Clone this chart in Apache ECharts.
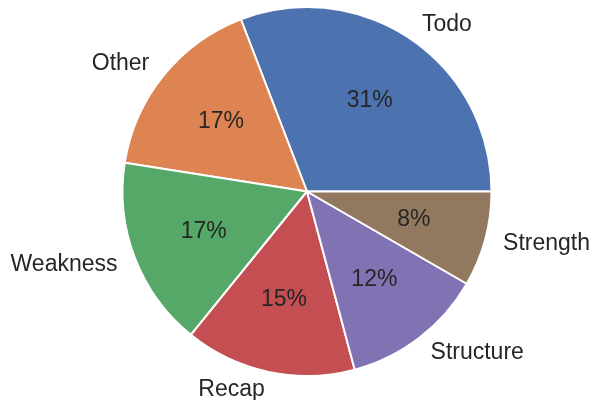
<!DOCTYPE html>
<html>
<head>
<meta charset="utf-8">
<script src="https://cdn.jsdelivr.net/npm/echarts@6/dist/echarts.min.js"></script>
<style>
  html, body { margin: 0; padding: 0; background: #ffffff; }
  #pie-chart { width: 592px; height: 400px; }
</style>
</head>
<body>
<div id="pie-chart"></div>
<script>
// slice names and counts (counter-clockwise from 3 o'clock)
const names = ['Todo', 'Other', 'Weakness', 'Recap', 'Structure', 'Strength']
const counts = [37, 20, 20, 18, 15, 10]
const colors = ['#4C72B0', '#DD8452', '#55A868', '#C44E52', '#8172B3', '#937860']

const R = 184.5
const CENTER = [307, 191.5]
const total = counts.reduce((a, b) => a + b, 0)

// python style '%1.0f' -> round half to even
const roundEven = v => {
  const f = Math.floor(v)
  const d = v - f
  if (Math.abs(d - 0.5) < 1e-9) return f % 2 === 0 ? f : f + 1
  return Math.round(v)
}

const pieData = names.map((n, i) => ({
  name: n,
  value: counts[i],
  itemStyle: { color: colors[i] }
}))

const myChart = echarts.init(document.getElementById('pie-chart'))
const options = {
  animation: false,
  textStyle: { fontFamily: 'Liberation Sans, Arial, sans-serif' },
  series: [
    {
      type: 'pie',
      center: CENTER,
      radius: [0, R],
      startAngle: 0,
      clockwise: false,
      avoidLabelOverlap: false,
      silent: true,
      data: pieData,
      itemStyle: {
        borderColor: '#ffffff',
        borderWidth: 2
      },
      label: {
        show: true,
        position: 'outside',
        fontSize: 23,
        color: '#262626',
        distanceToLabelLine: 0,
        formatter: p => p.name
      },
      labelLine: {
        show: false,
        length: R * 0.1,
        length2: 0
      }
    },
    {
      // transparent copy, only used to place the percent labels at 0.6 R
      type: 'pie',
      center: CENTER,
      radius: [0, (R * 0.6 - 3) * 2],
      startAngle: 0,
      clockwise: false,
      avoidLabelOverlap: false,
      silent: true,
      z: 3,
      data: pieData.map(d => ({ name: d.name, value: d.value })),
      itemStyle: { color: 'rgba(0,0,0,0)' },
      label: {
        show: true,
        position: 'inside',
        fontSize: 23,
        color: '#262626',
        formatter: p => roundEven(p.value / total * 100) + '%'
      },
      labelLine: { show: false }
    }
  ]
}
myChart.setOption(options)
</script>
</body>
</html>
